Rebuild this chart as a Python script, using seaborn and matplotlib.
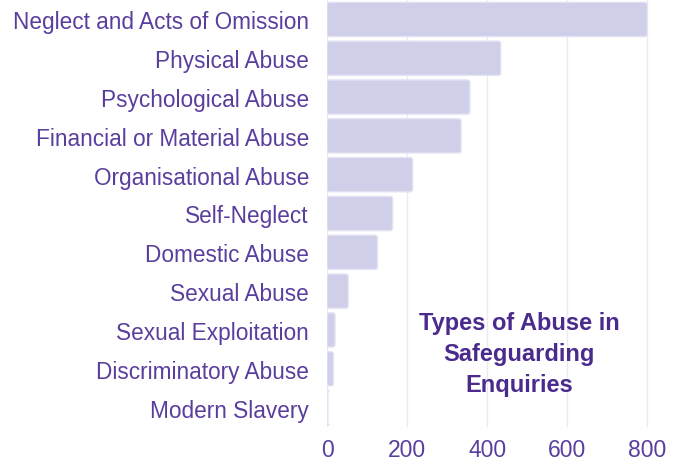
import numpy as np
import pandas as pd
import seaborn as sns
import matplotlib.pyplot as plt
from matplotlib.patches import FancyBboxPatch

# DATA
categories = ['Neglect and Acts of Omission', 'Physical Abuse', 'Psychological Abuse',
              'Financial or Material Abuse', 'Organisational Abuse', 'Self-Neglect',
              'Domestic Abuse', 'Sexual Abuse', 'Sexual Exploitation',
              'Discriminatory Abuse', 'Modern Slavery']
enquiries = [800, 434, 357, 335, 214, 164, 126, 53, 20, 16, 2]
x_ticks = [0, 200, 400, 600, 800]

df = pd.DataFrame({'type': categories, 'count': enquiries})

sns.set_style('white')
plt.rcParams['font.family'] = ['Liberation Sans', 'DejaVu Sans']

TEXT = '#5a3e9e'
TITLE = '#4a2a8c'

fig = plt.figure(figsize=(6.8, 4.64), dpi=100)
ax = fig.add_axes([327 / 680, 36 / 464, 333 / 680, 427 / 464])

sns.barplot(data=df, x='count', y='type', ax=ax, color='#cfcfea',
            saturation=1, width=0.88, edgecolor='#e2e2f3', linewidth=1)

ax.set_xlim(0, 832)

# rounded bar corners
for p in list(ax.patches):
    x0, y0 = p.get_x(), p.get_y()
    w, h = p.get_width(), p.get_height()
    fb = FancyBboxPatch((x0, y0), w, h, boxstyle='round,pad=0,rounding_size=6',
                        mutation_aspect=0.0105, facecolor=p.get_facecolor(),
                        edgecolor=p.get_edgecolor(), linewidth=1, zorder=p.get_zorder())
    p.remove()
    ax.add_patch(fb)

ax.set_xticks(x_ticks)
ax.set_xlabel('')
ax.set_ylabel('')
ax.grid(axis='x', color='#ebe9f5', linewidth=1)
ax.set_axisbelow(True)
for s in ax.spines.values():
    s.set_visible(False)
ax.tick_params(axis='y', length=0, labelsize=16.3, labelcolor=TEXT, pad=13)
ax.tick_params(axis='x', length=0, labelsize=16.5, labelcolor=TEXT, pad=8)

ax.text(480, 8.6, 'Types of Abuse in\nSafeguarding\nEnquiries', transform=ax.transData,
        ha='center', va='center', fontsize=17, fontweight='bold', color=TITLE,
        linespacing=1.45)

fig.savefig('out.png', dpi=100)
